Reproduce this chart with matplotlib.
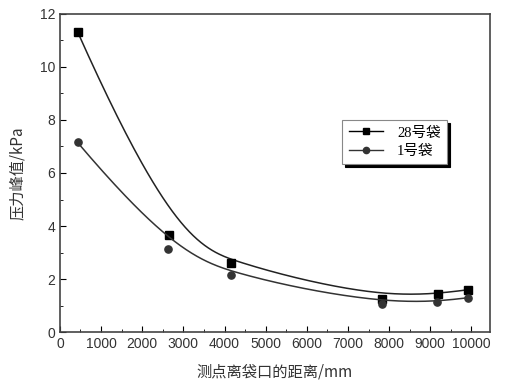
import numpy as np
import matplotlib
matplotlib.use('Agg')
import matplotlib.pyplot as plt
from matplotlib.ticker import MultipleLocator

plt.rcParams['font.family'] = ['Liberation Sans', 'Noto Sans CJK SC']

# 数据
dist_28 = [430, 2640, 4150, 7820, 9180, 9920]
peak_28 = [11.32, 3.65, 2.60, 1.25, 1.45, 1.60]
dist_1 = [430, 2620, 4150, 7820, 9170, 9920]
peak_1 = [7.15, 3.15, 2.15, 1.05, 1.15, 1.30]
labels = ['28号袋', '1号袋']


def bspline(xs, ys, n=300, k=3):
    # 夹紧三次B样条，数据点作控制点（类似Origin的B-Spline连线）
    P = np.column_stack([xs, ys]).astype(float)
    m = len(P)
    knots = np.concatenate([np.zeros(k), np.linspace(0, 1, m - k + 1), np.ones(k)])
    t = np.linspace(0, 1 - 1e-9, n)

    def basis(i, p, t):
        if p == 0:
            return ((knots[i] <= t) & (t < knots[i + 1])).astype(float)
        a = b = 0
        d1 = knots[i + p] - knots[i]
        d2 = knots[i + p + 1] - knots[i + 1]
        if d1 > 0:
            a = (t - knots[i]) / d1 * basis(i, p - 1, t)
        if d2 > 0:
            b = (knots[i + p + 1] - t) / d2 * basis(i + 1, p - 1, t)
        return a + b

    B = np.array([basis(i, k, t) for i in range(m)])
    C = B.T @ P
    C = np.vstack([C, P[-1]])
    return C[:, 0], C[:, 1]


fig = plt.figure(figsize=(5.12, 3.84), dpi=100)
ax = fig.add_axes([0.117, 0.135, 0.84, 0.829])

cx, cy = bspline(dist_28, peak_28)
ax.plot(cx, cy, color='#222222', lw=1.1)
ax.plot(dist_28, peak_28, 's', color='black', ms=5.2, ls='none')
cx, cy = bspline(dist_1, peak_1)
ax.plot(cx, cy, color='#333333', lw=1.1)
ax.plot(dist_1, peak_1, 'o', color='#333333', ms=5.2, ls='none')

# 图例用的句柄
h1, = ax.plot([], [], '-s', color='black', ms=4.5, lw=1)
h2, = ax.plot([], [], '-o', color='#333333', ms=4.5, lw=1)
leg = ax.legend([h1, h2], labels, loc='upper left', bbox_to_anchor=(0.64, 0.69),
                frameon=True, fancybox=False, shadow={'color': 'black', 'alpha': 1},
                edgecolor='#888888', framealpha=1, handlelength=2.3, labelspacing=0.35,
                borderpad=0.45, handletextpad=1.0,
                prop={'family': ['Liberation Serif', 'Noto Sans CJK SC'], 'size': 10.5})
leg.get_frame().set_linewidth(0.8)

ax.set_xlim(0, 10450)
ax.set_ylim(0, 12)
ax.xaxis.set_major_locator(MultipleLocator(1000))
ax.xaxis.set_minor_locator(MultipleLocator(500))
ax.yaxis.set_major_locator(MultipleLocator(2))
ax.yaxis.set_minor_locator(MultipleLocator(1))
ax.tick_params(which='both', direction='in', top=False, right=False, labelsize=10,
               labelcolor='#333333')
ax.tick_params(which='major', length=4)
ax.tick_params(which='minor', length=2.5)
for s in ax.spines.values():
    s.set_linewidth(1.2)
    s.set_color('#444444')

ax.set_xlabel('测点离袋口的距离/mm', fontsize=11, color='#333333', labelpad=9,
              family=['Noto Sans CJK SC', 'Liberation Serif'])
ax.set_ylabel('压力峰值/kPa', fontsize=11, color='#333333', labelpad=10,
              family=['Noto Sans CJK SC', 'Liberation Serif'])

fig.savefig('out.png', dpi=100)
